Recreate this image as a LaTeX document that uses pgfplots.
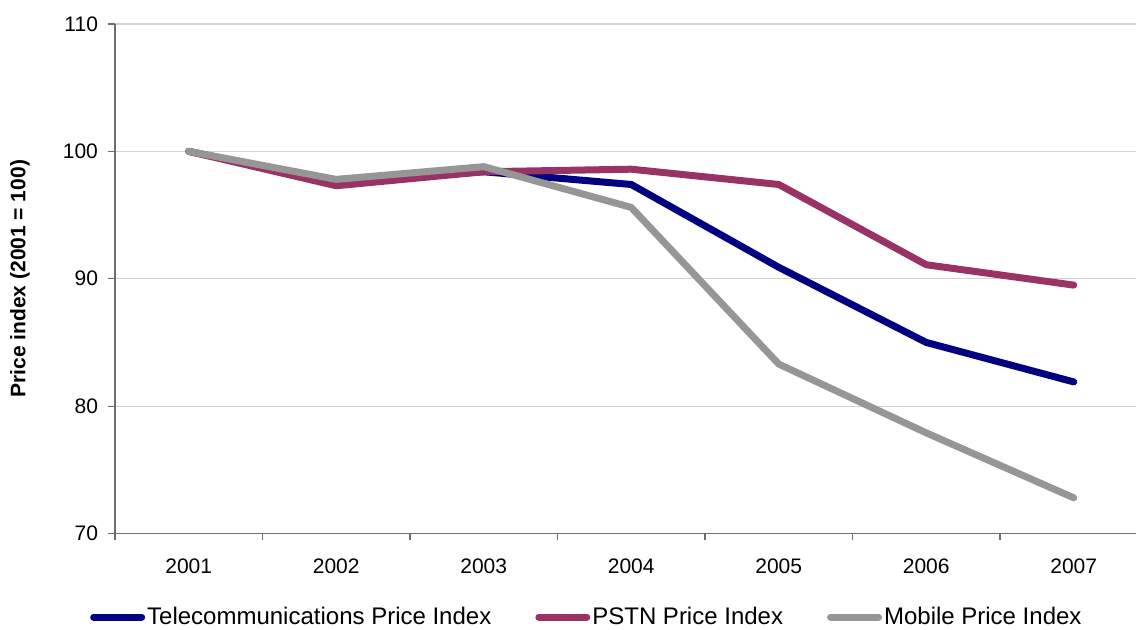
\documentclass[border=0pt]{standalone}
\usepackage{pgfplots}
\pgfplotsset{compat=1.18}
\usepackage{fontspec}
\setmainfont{Liberation Sans}

\definecolor{telecom}{RGB}{0,0,128}
\definecolor{pstn}{RGB}{153,51,102}
\definecolor{mobile}{RGB}{150,150,150}
\definecolor{gridgray}{RGB}{210,210,210}
\definecolor{axisgray}{RGB}{110,110,110}

\begin{document}
\begin{tikzpicture}
\useasboundingbox (0,0) rectangle (568pt,315pt);
\clip (0,0) rectangle (568pt,315pt);
\begin{axis}[
  at={(57.5pt,48.25pt)}, anchor=south west,
  scale only axis,
  width=516.25pt, height=254.75pt,
  xmin=-0.5, xmax=6.5,
  ymin=70, ymax=110,
  ytick={70,80,...,110},
  xtick={-0.5,0.5,...,6.5},
  xticklabels={},
  extra x ticks={0,1,2,3,4,5,6},
  extra x tick labels={2001,2002,2003,2004,2005,2006,2007},
  extra x tick style={major tick length=0pt, grid=none},
  ymajorgrids,
  major grid style={draw=gridgray, line width=0.6pt},
  axis x line*=bottom, axis y line*=left,
  axis line style={draw=axisgray, line width=0.7pt, -},
  tick style={draw=axisgray, line width=0.6pt},
  tick align=outside,
  major tick length=3.5pt,
  /pgf/number format/assume math mode=true,
  tick label style={font=\fontsize{10.5}{12}\selectfont},
  xticklabel style={yshift=-9pt},
  yticklabel style={xshift=-1.5pt},
  every axis y label/.style={at={(axis description cs:-0.092,0.5)}, rotate=90, anchor=center},
  ylabel={\bfseries Price index (2001 = 100)},
  label style={font=\fontsize{10.5}{12}\selectfont\bfseries},
  legend columns=3,
  legend style={
    at={(axis description cs:0.457,-0.164)}, anchor=center,
    draw=none, fill=none,
    font=\fontsize{12}{14}\selectfont,
    /tikz/every even column/.append style={column sep=21pt},
    inner sep=0pt,
    nodes={inner sep=1pt},
  },
  legend cell align=left,
  legend image code/.code={\draw[#1] (1.75pt,0pt) -- (21.25pt,0pt);
    \path (0pt,0pt) -- (24pt,0pt);},
  every axis plot/.append style={line width=3.5pt, line cap=round, line join=round},
]
\addplot[telecom] coordinates {
  (0,100) (1,97.6) (2,98.4) (3,97.4) (4,90.9) (5,85.0) (6,81.9)};
\addlegendentry{Telecommunications Price Index}
\addplot[pstn] coordinates {
  (0,100) (1,97.3) (2,98.4) (3,98.6) (4,97.4) (5,91.1) (6,89.5)};
\addlegendentry{PSTN Price Index}
\addplot[mobile] coordinates {
  (0,100) (1,97.8) (2,98.8) (3,95.6) (4,83.3) (5,77.9) (6,72.8)};
\addlegendentry{Mobile Price Index}
\end{axis}
\end{tikzpicture}
\end{document}
